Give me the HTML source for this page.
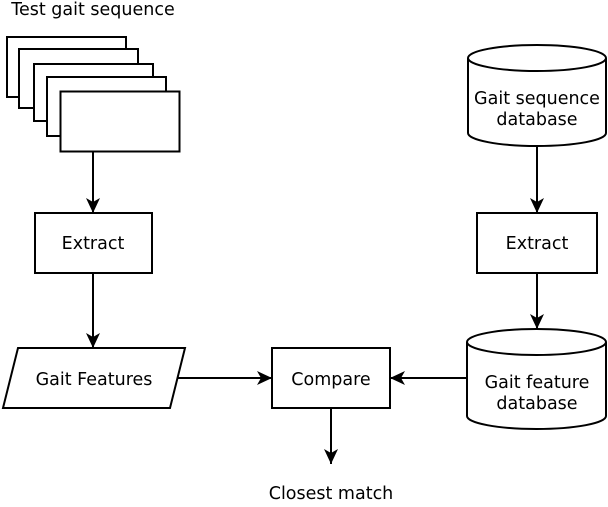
<!DOCTYPE html>
<html><head><style>body{margin:0;background:#fff} text{font-family:'DejaVu Sans','Liberation Sans',sans-serif;font-size:17.5px}</style></head><body>
<svg width="608" height="502" viewBox="0 0 608 502" xmlns="http://www.w3.org/2000/svg">
<defs><marker id="b" markerWidth="16" markerHeight="16" refX="15" refY="8" orient="auto" markerUnits="userSpaceOnUse"><path d="M0,1 L15,8 L0,15 L4,8 z" fill="#000"/></marker></defs>
<g stroke="#000" stroke-width="2" fill="#fff">
<rect x="7" y="37" width="119" height="60"/>
<rect x="19" y="49" width="119" height="59"/>
<rect x="34" y="64" width="119" height="57"/>
<rect x="47" y="77" width="119" height="59"/>
<rect x="60.5" y="91.5" width="119" height="60"/>
<rect x="35" y="213" width="117" height="60"/>
<path d="M18,348 L185,348 L170,408 L3,408 Z"/>
<rect x="272" y="348" width="118" height="60"/>
<rect x="477" y="213" width="120" height="60"/>
<path d="M468,58 A69,13 0 0 1 606,58 L606,133 A69,13 0 0 1 468,133 Z"/>
<path d="M468,58 A69,13 0 0 0 606,58" fill="none"/>
<path d="M467,342 A69.5,13 0 0 1 606,342 L606,416 A69.5,13 0 0 1 467,416 Z"/>
<path d="M467,342 A69.5,13 0 0 0 606,342" fill="none"/>
<line x1="93" y1="152" x2="93" y2="213" marker-end="url(#b)"/>
<line x1="93" y1="273" x2="93" y2="348" marker-end="url(#b)"/>
<line x1="537" y1="146" x2="537" y2="213" marker-end="url(#b)"/>
<line x1="537" y1="273" x2="537" y2="329" marker-end="url(#b)"/>
<line x1="178" y1="378" x2="272" y2="378" marker-end="url(#b)"/>
<line x1="467" y1="378" x2="390" y2="378" marker-end="url(#b)"/>
<line x1="331" y1="408" x2="331" y2="464" marker-end="url(#b)"/>
</g>
<g text-anchor="middle" fill="#000">
<text x="93" y="15">Test gait sequence</text>
<text x="93" y="249">Extract</text>
<text x="94" y="385">Gait Features</text>
<text x="331" y="385">Compare</text>
<text x="537" y="249">Extract</text>
<text x="537" y="104">Gait sequence</text>
<text x="537" y="125">database</text>
<text x="537" y="388">Gait feature</text>
<text x="537" y="409">database</text>
<text x="331" y="499">Closest match</text>
</g>
</svg>
</body></html>
